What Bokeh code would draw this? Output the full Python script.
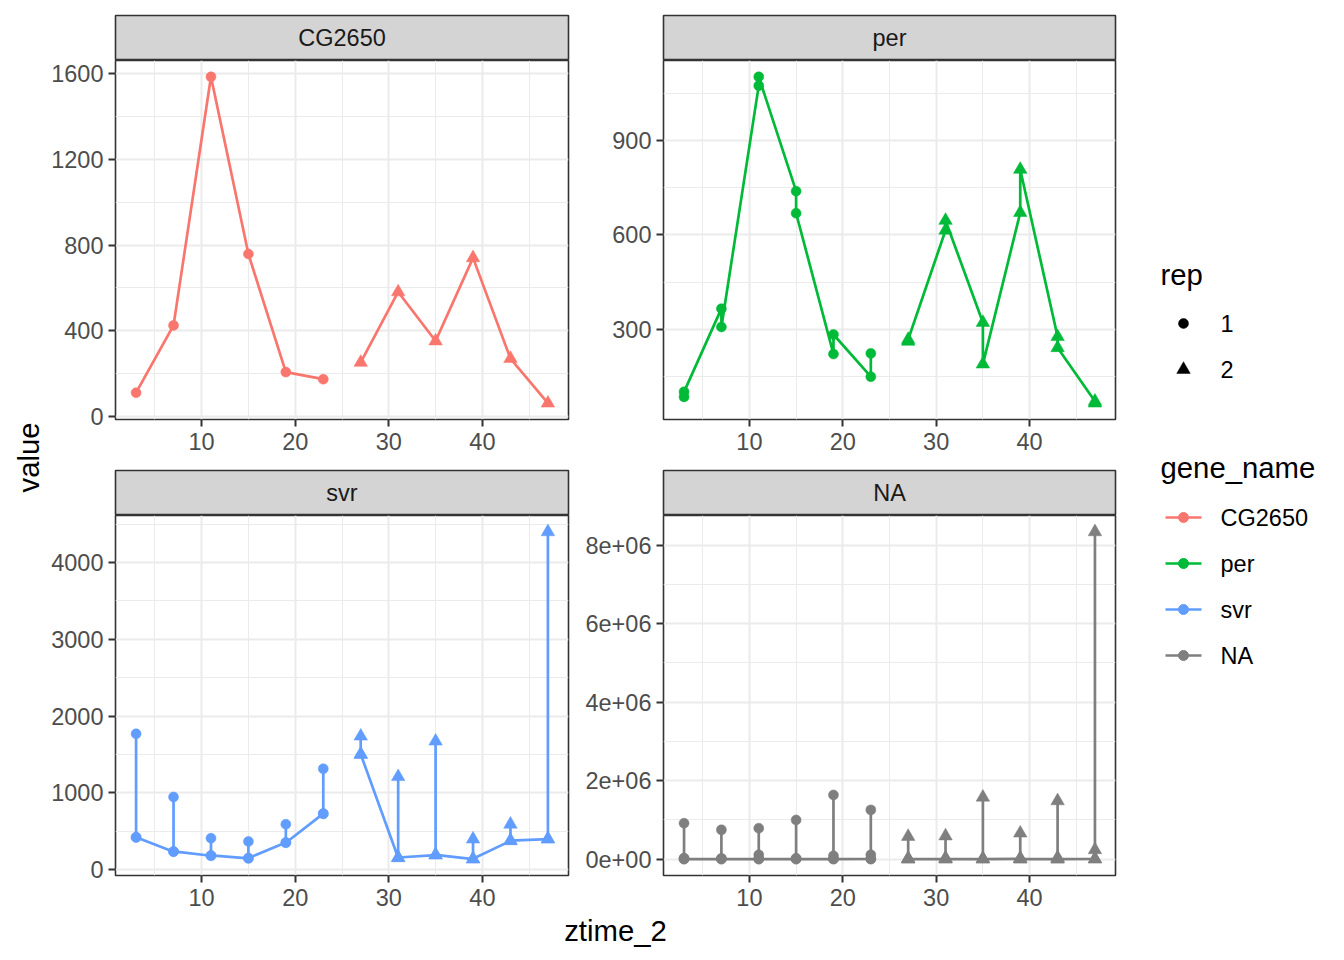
import numpy as np
import pandas as pd
from bokeh.plotting import figure
from bokeh.layouts import row, column
from bokeh.models import Range1d, FixedTicker
from bokeh.core.properties import value
from bokeh.embed import file_html
from bokeh.resources import INLINE

# ---------------- data ----------------
ztime_rep1 = [3, 7, 11, 15, 19, 23]
ztime_rep2 = [27, 31, 35, 39, 43, 47]

gene_names = ["CG2650", "per", "svr", "NA"]
gene_colors = ["#F8766D", "#00BA38", "#619CFF", "#7F7F7F"]
rep_levels = ["1", "2"]

cg2650_rep1 = [111, 425, 1585, 758, 207, 174]
cg2650_rep2 = [252, 581, 352, 740, 270, 62]

per_a_rep1 = [86, 366, 1074, 739, 222, 150]
per_b_rep1 = [102, 308, 1102, 669, 284, 224]
per_a_rep2 = [262, 615, 322, 671, 277, 72]
per_b_rep2 = [268, 646, 190, 808, 242, 66]

svr_a_rep1 = [420, 234, 182, 148, 355, 731]
svr_b_rep1 = [1769, 947, 411, 368, 593, 1315]
svr_c_rep1 = [424, 238, 186, 152, 351, 727]
svr_a_rep2 = [1500, 155, 190, 138, 376, 398]
svr_b_rep2 = [1738, 1211, 1673, 398, 592, 4398]
svr_c_rep2 = [1504, 159, 194, 142, 380, 402]

na_a_rep1 = [6000, 4000, 9000, 5000, 7000, 8000]
na_b_rep1 = [916000, 747000, 789000, 1000000, 1637000, 1256000]
na_c_rep1 = [30000, 20000, 110000, 25000, 85000, 110000]
na_d_rep1 = [2000, 3000, 1000, 2500, 1500, 2000]
na_a_rep2 = [5000, 7000, 4000, 6000, 3000, 8000]
na_b_rep2 = [577000, 590000, 1578000, 662000, 1485000, 8340000]
na_c_rep2 = [20000, 30000, 15000, 25000, 40000, 238000]
na_d_rep2 = [1000, 2000, 3000, 1500, 2500, 3000]

x_breaks = [10, 20, 30, 40]
cg2650_breaks = [0, 400, 800, 1200, 1600]
per_breaks = [300, 600, 900]
svr_breaks = [0, 1000, 2000, 3000, 4000]
na_breaks = [0, 2000000, 4000000, 6000000, 8000000]

# ---------------- long table ----------------
gene_transcripts = {
    "CG2650": [(cg2650_rep1, cg2650_rep2)],
    "per": [(per_a_rep1, per_a_rep2), (per_b_rep1, per_b_rep2)],
    "svr": [(svr_a_rep1, svr_a_rep2), (svr_b_rep1, svr_b_rep2), (svr_c_rep1, svr_c_rep2)],
    "NA": [(na_a_rep1, na_a_rep2), (na_b_rep1, na_b_rep2), (na_c_rep1, na_c_rep2), (na_d_rep1, na_d_rep2)],
}
gene_breaks = {"CG2650": cg2650_breaks, "per": per_breaks, "svr": svr_breaks, "NA": na_breaks}

records = []
for g in gene_names:
    for t, (r1, r2) in enumerate(gene_transcripts[g]):
        for rep, xs, vals in (("1", ztime_rep1, r1), ("2", ztime_rep2, r2)):
            for x, v in zip(xs, vals):
                records.append({"gene_name": g, "transcript": t, "rep": rep, "ztime_2": x, "value": v})
df = pd.DataFrame(records)

# ---------------- style ----------------
FONT = value("Liberation Sans")
TICK_FS = "23.5px"
TITLE_FS = "29.3px"
LINE_W = 2.7
PT_SIZE = 10
TRI_SIZE = 13.5
MARKERS = {"1": "circle", "2": "triangle"}
GRID_COL = "#EBEBEB"
DARK = "#333333"
STRIP_FILL = "#D4D4D4"


def expand(lo, hi, mult=0.05):
    d = (hi - lo) * mult
    return lo - d, hi + d


def minor_of(breaks, lo, hi):
    step = breaks[1] - breaks[0]
    cands = [b - step / 2 for b in breaks] + [breaks[-1] + step / 2]
    return [c for c in cands if lo <= c <= hi]


all_x = df["ztime_2"]
XR = expand(all_x.min(), all_x.max())

# layout (pixels)
YLAB_W = 45
L_LEFT, L_FRAME, RB = 70, 453, 2
R_LEFT, R_FRAME = 93, 452
STRIP_H = 45
TOP_FRAME_H, BOT_FRAME_H = 359, 360
TOP_BOTTOM_B, BOT_BOTTOM_B = 49, 40
LEFT_W = L_LEFT + L_FRAME + RB
RIGHT_W = R_LEFT + R_FRAME + RB
LEG_W = 1344 - YLAB_W - LEFT_W - RIGHT_W
XLAB_H = 960 - (15 + STRIP_H + TOP_FRAME_H + TOP_BOTTOM_B + 2 + STRIP_H + BOT_FRAME_H + BOT_BOTTOM_B)


def style_axis(ax):
    ax.axis_line_color = None
    ax.major_tick_line_color = DARK
    ax.major_tick_line_width = 2
    ax.major_tick_out = 7
    ax.major_tick_in = 0
    ax.minor_tick_line_color = None
    ax.major_label_text_font = "Liberation Sans"
    ax.major_label_text_font_size = TICK_FS
    ax.major_label_text_color = "#4D4D4D"


def make_strip(label, left, top, frame_w):
    p = figure(frame_width=frame_w, frame_height=STRIP_H, min_border_left=left, min_border_right=RB,
               min_border_top=top, min_border_bottom=0, x_range=Range1d(0, 1), y_range=Range1d(0, 1),
               output_backend="svg", toolbar_location=None, x_axis_location=None, y_axis_location=None,
               background_fill_color=STRIP_FILL, border_fill_color="white",
               outline_line_color=DARK, outline_line_width=1.6)
    p.grid.visible = False
    p.text(x=[0.5], y=[0.5], text=[label], text_align="center", text_baseline="middle",
           text_font=FONT, text_font_size=TICK_FS, text_color="#1A1A1A")
    return p


def make_panel(gene, color, left, frame_w, frame_h, bottom):
    sub = df[df["gene_name"] == gene]
    yr = expand(sub["value"].min(), sub["value"].max())
    p = figure(frame_width=frame_w, frame_height=frame_h, min_border_left=left, min_border_right=RB,
               min_border_top=0, min_border_bottom=bottom, x_range=Range1d(*XR), y_range=Range1d(*yr),
               output_backend="svg", toolbar_location=None, background_fill_color="white",
               border_fill_color="white", outline_line_color=DARK, outline_line_width=1.6)
    p.xaxis.ticker = FixedTicker(ticks=x_breaks, minor_ticks=minor_of(x_breaks, *XR))
    yb = gene_breaks[gene]
    p.yaxis.ticker = FixedTicker(ticks=yb, minor_ticks=minor_of(yb, *yr))
    if gene == "NA":
        p.yaxis.major_label_overrides = {b: f"{b:.0e}" for b in yb}
    for ax in (p.xaxis[0], p.yaxis[0]):
        style_axis(ax)
    p.xaxis.major_label_standoff = 6
    p.yaxis.major_label_standoff = 5
    p.grid.grid_line_color = GRID_COL
    p.grid.grid_line_width = 2
    p.grid.minor_grid_line_color = GRID_COL
    p.grid.minor_grid_line_width = 1
    for rep in rep_levels:
        s = sub[sub["rep"] == rep].sort_values("ztime_2", kind="stable")
        p.line(s["ztime_2"].tolist(), s["value"].tolist(), line_color=color, line_width=LINE_W)
        p.scatter(s["ztime_2"].tolist(), s["value"].tolist(), marker=MARKERS[rep],
                  size=PT_SIZE if rep == "1" else TRI_SIZE, fill_color=color, line_color=color, line_width=0.5)
    return p


strips_top = row(make_strip("CG2650", L_LEFT, 15, L_FRAME), make_strip("per", R_LEFT, 15, R_FRAME))
panels_top = row(make_panel("CG2650", gene_colors[0], L_LEFT, L_FRAME, TOP_FRAME_H, TOP_BOTTOM_B),
                 make_panel("per", gene_colors[1], R_LEFT, R_FRAME, TOP_FRAME_H, TOP_BOTTOM_B))
strips_bot = row(make_strip("svr", L_LEFT, 2, L_FRAME), make_strip("NA", R_LEFT, 2, R_FRAME))
panels_bot = row(make_panel("svr", gene_colors[2], L_LEFT, L_FRAME, BOT_FRAME_H, BOT_BOTTOM_B),
                 make_panel("NA", gene_colors[3], R_LEFT, R_FRAME, BOT_FRAME_H, BOT_BOTTOM_B))


def blank(w, h):
    p = figure(width=w, height=h, min_border=0, x_range=Range1d(0, w), y_range=Range1d(0, h),
               output_backend="svg", toolbar_location=None, x_axis_location=None, y_axis_location=None,
               outline_line_color=None, background_fill_color=None, border_fill_color=None)
    p.grid.visible = False
    return p


# x axis title
xlab = blank(LEFT_W + RIGHT_W, XLAB_H)
panel_center = (L_LEFT + (LEFT_W + R_LEFT + R_FRAME)) / 2
xlab.text(x=[panel_center], y=[XLAB_H - 15], text=["ztime_2"], text_align="center", text_baseline="middle",
          text_font=FONT, text_font_size=TITLE_FS, text_color="black")

# y axis title
ylab = blank(YLAB_W, 960)
ylab.text(x=[28], y=[960 - 457], text=["value"], angle=np.pi / 2, text_align="center", text_baseline="middle",
          text_font=FONT, text_font_size=TITLE_FS, text_color="black")

# legend
leg = blank(LEG_W, 960)
kx = 1183 - (1344 - LEG_W)
lx = 1220 - (1344 - LEG_W)
tx = 1160 - (1344 - LEG_W)
leg.text(x=[tx], y=[960 - 274], text=["rep"], text_baseline="middle", text_font=FONT,
         text_font_size=TITLE_FS, text_color="black")
rep_y = [960 - 323, 960 - 369]
for rep, yy in zip(rep_levels, rep_y):
    leg.scatter([kx], [yy], marker=MARKERS[rep], size=PT_SIZE if rep == "1" else TRI_SIZE,
                fill_color="black", line_color="black", line_width=0.5)
    leg.text(x=[lx], y=[yy], text=[rep], text_baseline="middle", text_font=FONT,
             text_font_size=TICK_FS, text_color="black")
leg.text(x=[tx], y=[960 - 467], text=["gene_name"], text_baseline="middle", text_font=FONT,
         text_font_size=TITLE_FS, text_color="black")
gene_y = [960 - 517, 960 - 563, 960 - 609, 960 - 655]
for g, c, yy in zip(gene_names, gene_colors, gene_y):
    leg.line([kx - 18, kx + 18], [yy, yy], line_color=c, line_width=LINE_W)
    leg.scatter([kx], [yy], marker="circle", size=PT_SIZE, fill_color=c, line_color=c)
    leg.text(x=[lx], y=[yy], text=[g], text_baseline="middle", text_font=FONT,
             text_font_size=TICK_FS, text_color="black")

main = column(strips_top, panels_top, strips_bot, panels_bot, xlab)
page = row(ylab, main, leg)

open("out.html", "w").write(file_html(page, INLINE))
